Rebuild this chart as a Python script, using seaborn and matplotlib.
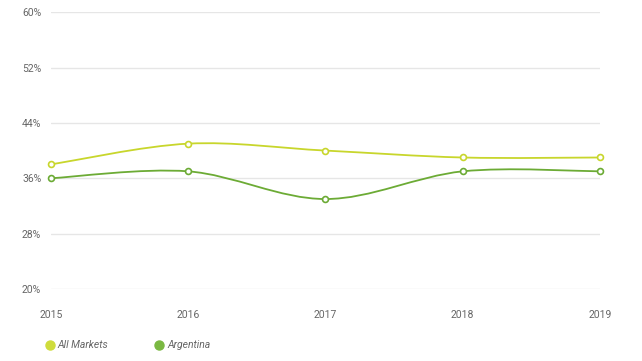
import matplotlib
matplotlib.use('Agg')
import matplotlib.pyplot as plt
import seaborn as sns
import pandas as pd
import numpy as np
from matplotlib.path import Path
from matplotlib.patches import PathPatch
from matplotlib.lines import Line2D

years = [2015, 2016, 2017, 2018, 2019]
all_markets = [38, 41, 40, 39, 39]
argentina = [36, 37, 33, 37, 37]
series_names = ['All Markets', 'Argentina']
line_colors = {'All Markets': '#c8d62c', 'Argentina': '#6cab35'}
legend_colors = {'All Markets': '#cfdc3c', 'Argentina': '#7ab842'}
y_ticks = [20, 28, 36, 44, 52, 60]

df = pd.DataFrame({
    'year': years * 2,
    'value': all_markets + argentina,
    'series': ['All Markets'] * len(years) + ['Argentina'] * len(years),
})

sns.set_theme(style='white')
plt.rcParams['font.family'] = ['Roboto', 'DejaVu Sans']

fig = plt.figure(figsize=(6.42, 3.61), dpi=100)
ax = fig.add_axes([0.0794, 0.1994, 0.855, 0.767])


def spline_path(xs, ys):
    # catmull-rom style smoothing drawn as cubic bezier segments
    pts = np.column_stack([xs, ys]).astype(float)
    verts = [pts[0]]
    codes = [Path.MOVETO]
    n = len(pts)
    for i in range(n - 1):
        p_prev = pts[i - 1] if i > 0 else pts[i]
        p_next = pts[i + 2] if i + 2 < n else pts[i + 1]
        c1 = pts[i] + (pts[i + 1] - p_prev) / 6.0
        c2 = pts[i + 1] - (p_next - pts[i]) / 6.0
        verts += [c1, c2, pts[i + 1]]
        codes += [Path.CURVE4] * 3
    return Path(verts, codes)


for name in series_names:
    sub = df[df.series == name]
    patch = PathPatch(spline_path(sub.year.values, sub.value.values),
                      facecolor='none', edgecolor=line_colors[name], lw=1.3, zorder=3)
    ax.add_patch(patch)

for name in series_names:
    sub = df[df.series == name]
    sns.scatterplot(data=sub, x='year', y='value', ax=ax, s=18, marker='o',
                    facecolor='white', edgecolor=line_colors[name], linewidth=1.2,
                    zorder=4, clip_on=False, legend=False)

ax.set_xlim(2015, 2019)
ax.set_ylim(20, 60)
ax.set_yticks(y_ticks)
ax.set_yticklabels([f'{v}%' for v in y_ticks])
ax.set_xticks(years)
ax.set_xticklabels([str(y) for y in years])
ax.grid(axis='y', color='#e6e6e6', lw=1)
ax.set_axisbelow(True)
ax.set_xlabel('')
ax.set_ylabel('')
for s in ax.spines.values():
    s.set_visible(False)
ax.tick_params(axis='y', length=0, pad=7, labelsize=7.5, labelcolor='#666666')
ax.tick_params(axis='x', length=0, pad=15, labelsize=7.5, labelcolor='#666666')

handles = [Line2D([0], [0], marker='o', ls='none', markersize=6.5,
                  markerfacecolor=legend_colors[n], markeredgecolor=legend_colors[n])
           for n in series_names]
leg = fig.legend(handles, series_names, loc='center left', bbox_to_anchor=(0.061, 0.043),
                 ncol=2, frameon=False, handletextpad=0.25, columnspacing=4.4,
                 handlelength=1.0, borderpad=0, prop={'size': 7.5, 'style': 'italic'})
for t in leg.get_texts():
    t.set_color('#666666')

fig.savefig('out.png', dpi=100)
